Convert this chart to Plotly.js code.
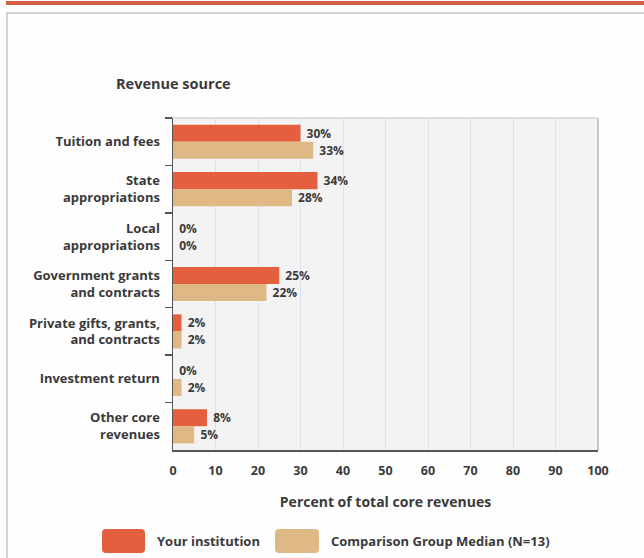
<!DOCTYPE html>
<html><head><meta charset="utf-8">
<script src="https://cdn.plot.ly/plotly-3.0.1.min.js"></script>
<style>
html,body{margin:0;padding:0;background:#fefefe;width:644px;height:558px;overflow:hidden;}
#topbar{position:absolute;left:6px;top:1px;width:638px;height:4px;background:#cf6140;}
#frame{position:absolute;left:6px;top:12px;width:700px;height:600px;border:2px solid #d2d2d2;}
#chart{position:absolute;left:0;top:0;width:644px;height:558px;}
</style></head><body>
<div id="topbar"></div><div id="frame"></div><div id="chart"></div>
<script>
const categories = ["Tuition and fees","State<br>appropriations","Local<br>appropriations","Government grants<br>and contracts","Private gifts, grants,<br>and contracts","Investment return","Other core<br>revenues"];
const yourInstitution = [30, 34, 0, 25, 2, 0, 8];
const comparisonMedian = [33, 28, 0, 22, 2, 2, 5];
const seriesNames = ["Your institution", "Comparison Group Median (N=13)"];
const xTickValues = [0, 10, 20, 30, 40, 50, 60, 70, 80, 90, 100];
const yAxisHeading = "Revenue source";
const xAxisTitle = "Percent of total core revenues";

const colors = ["#e35f3d", "#dfb985"];
const FONT = "'Open Sans', Lato, sans-serif";
const TXT = "#3a3a3a";
const W8 = 700;

const M = {l:173, r:46, t:118, b:108};
const W = 644 - M.l - M.r, H = 558 - M.t - M.b;
const px = x => (x - M.l) / W;
const py = y => (558 - M.b - y) / H;

function roundRect(x0, y0, x1, y1, r) {
  const X = v => px(v), Y = v => py(v);
  return `M${X(x0+r)},${Y(y0)} L${X(x1-r)},${Y(y0)} Q${X(x1)},${Y(y0)} ${X(x1)},${Y(y0+r)} ` +
         `L${X(x1)},${Y(y1-r)} Q${X(x1)},${Y(y1)} ${X(x1-r)},${Y(y1)} L${X(x0+r)},${Y(y1)} ` +
         `Q${X(x0)},${Y(y1)} ${X(x0)},${Y(y1-r)} L${X(x0)},${Y(y0+r)} Q${X(x0)},${Y(y0)} ${X(x0+r)},${Y(y0)} Z`;
}

const seriesValues = [yourInstitution, comparisonMedian];
const traces = seriesValues.map((vals, i) => ({
  type: "bar",
  orientation: "h",
  name: seriesNames[i],
  x: vals,
  y: categories,
  marker: {color: colors[i]},
  texttemplate: "\u00a0%{x}%",
  textposition: "outside",
  textfont: {family: FONT, size: 12, color: TXT, weight: W8},
  cliponaxis: false,
  hoverinfo: "x+y"
}));

const legendShapes = [
  roundRect(102, 529, 145, 553, 4),
  roundRect(275, 529, 319, 553, 4)
].map((p, i) => ({type: "path", xref: "paper", yref: "paper", path: p,
  fillcolor: colors[i], line: {width: 0}}));

const layout = {
  width: 644, height: 558,
  margin: M,
  paper_bgcolor: "rgba(0,0,0,0)",
  plot_bgcolor: "#f3f3f3",
  font: {family: FONT, size: 12, color: TXT, weight: W8},
  showlegend: false,
  barmode: "group",
  bargap: 0.28,
  bargroupgap: 0,
  xaxis: {
    range: [0, 100], tickvals: xTickValues, ticks: "",
    showgrid: true, gridcolor: "#dde3ec", gridwidth: 1,
    zeroline: false,
    showline: true, linecolor: "#555", linewidth: 2,
    ticklabelstandoff: 8,
    tickfont: {family: FONT, size: 12.5, color: TXT, weight: W8},
    title: {text: xAxisTitle, standoff: 19, font: {family: FONT, size: 14, color: TXT, weight: W8}},
    fixedrange: true
  },
  yaxis: {
    type: "category", autorange: "reversed",
    tickson: "boundaries", ticks: "outside", ticklen: 7, tickcolor: "#555", tickwidth: 1.5,
    showline: true, linecolor: "#555", linewidth: 1.5,
    showgrid: false, zeroline: false,
    ticklabelstandoff: 9,
    tickfont: {family: FONT, size: 13, color: TXT, weight: W8},
    fixedrange: true
  },
  shapes: [
    {type: "line", xref: "paper", yref: "paper", x0: 0, x1: 1, y0: 1, y1: 1, line: {color: "#dedede", width: 2}, layer: "below"},
    {type: "line", xref: "paper", yref: "paper", x0: 1, x1: 1, y0: 0, y1: 1, line: {color: "#c2c6cc", width: 2}, layer: "below"}
  ].concat(legendShapes),
  annotations: [
    {text: yAxisHeading, xref: "paper", yref: "paper", x: px(173), y: py(83), xanchor: "center", yanchor: "middle",
     showarrow: false, font: {family: FONT, size: 14.5, color: TXT, weight: W8}},
    {text: seriesNames[0], xref: "paper", yref: "paper", x: px(155), y: py(541), xanchor: "left", yanchor: "middle",
     showarrow: false, font: {family: FONT, size: 13, color: TXT, weight: W8}},
    {text: seriesNames[1], xref: "paper", yref: "paper", x: px(329), y: py(541), xanchor: "left", yanchor: "middle",
     showarrow: false, font: {family: FONT, size: 13, color: TXT, weight: W8}}
  ]
};

Plotly.newPlot("chart", traces, layout, {staticPlot: true, displayModeBar: false});
</script>
</body></html>
